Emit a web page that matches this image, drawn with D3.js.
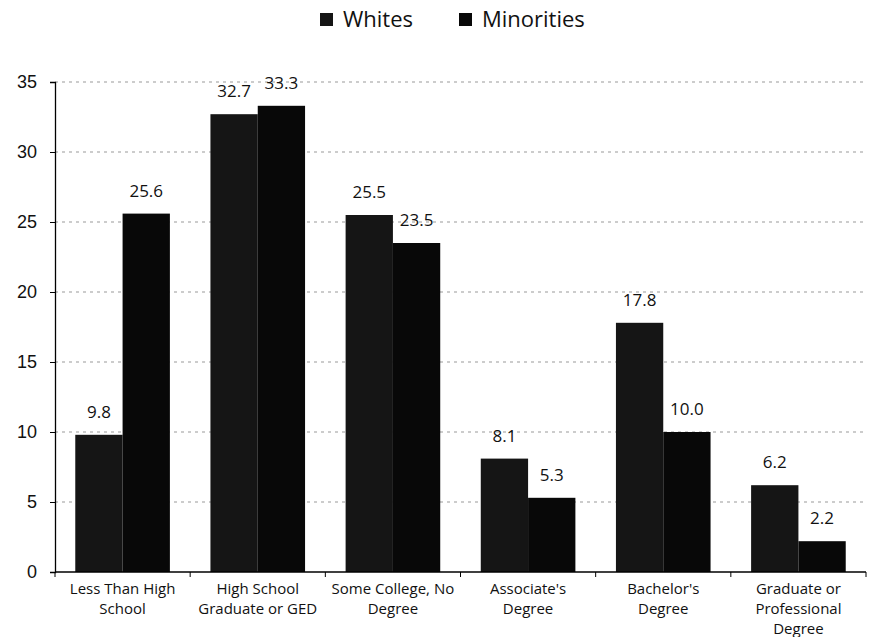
<!DOCTYPE html>
<html>
<head>
<meta charset="utf-8">
<script src="https://cdn.jsdelivr.net/npm/d3@7"></script>
<style>
  body { margin: 0; background: #fff; }
  svg { font-family: "Open Sans", "Noto Sans", sans-serif; }
</style>
</head>
<body>
<svg id="chart" width="869" height="637"></svg>
<script>
// education level by group, percent
var categories = [
  ["Less Than High", "School"],
  ["High School", "Graduate or GED"],
  ["Some College, No", "Degree"],
  ["Associate's", "Degree"],
  ["Bachelor's", "Degree"],
  ["Graduate or", "Professional", "Degree"]
];
var seriesNames = ["Whites", "Minorities"];
var whites = [9.8, 32.7, 25.5, 8.1, 17.8, 6.2];
var minorities = [25.6, 33.3, 23.5, 5.3, 10.0, 2.2];
var yTicks = [0, 5, 10, 15, 20, 25, 30, 35];

var colors = ["#151515", "#080808"];

var margin = {top: 82, right: 3, bottom: 65, left: 55},
    width = 869 - margin.left - margin.right,
    height = 637 - margin.top - margin.bottom;

var svg = d3.select("#chart")
  .append("g")
    .attr("transform", "translate(" + margin.left + "," + margin.top + ")");

var idx = d3.range(categories.length);

var x0 = d3.scaleBand()
    .domain(idx)
    .range([0, width])
    .paddingInner(0.3)
    .paddingOuter(0.15);

var x1 = d3.scaleBand()
    .domain([0, 1])
    .range([0, x0.bandwidth()]);

var y = d3.scaleLinear()
    .domain([0, 35])
    .range([height, 0]);

// grid
svg.append("g")
  .selectAll("line")
  .data(yTicks.filter(function(d) { return d > 0; }))
  .enter()
  .append("line")
    .attr("x1", 0)
    .attr("x2", width)
    .attr("y1", function(d) { return y(d); })
    .attr("y2", function(d) { return y(d); })
    .attr("stroke", "#999")
    .attr("stroke-width", 1)
    .attr("stroke-dasharray", "3,4");

// y axis
var yAxis = svg.append("g")
  .call(d3.axisLeft(y).tickValues(yTicks).tickSize(5).tickPadding(13));
yAxis.select(".domain").attr("stroke", "#000").attr("stroke-width", 1.3);
yAxis.selectAll("text")
  .style("font-size", "18px")
  .attr("fill", "#111");

// bars
var series = [whites, minorities];
var groups = svg.selectAll("g.group")
  .data(idx)
  .enter()
  .append("g")
    .attr("class", "group")
    .attr("transform", function(i) { return "translate(" + x0(i) + ",0)"; });

groups.selectAll("rect")
  .data(function(i) { return [0, 1].map(function(s) { return {s: s, v: series[s][i]}; }); })
  .enter()
  .append("rect")
    .attr("x", function(d) { return x1(d.s); })
    .attr("y", function(d) { return y(d.v); })
    .attr("width", x1.bandwidth())
    .attr("height", function(d) { return height - y(d.v); })
    .attr("fill", function(d) { return colors[d.s]; });

groups.selectAll("text.val")
  .data(function(i) { return [0, 1].map(function(s) { return {s: s, v: series[s][i]}; }); })
  .enter()
  .append("text")
    .attr("class", "val")
    .attr("x", function(d) { return x1(d.s) + x1.bandwidth() / 2; })
    .attr("y", function(d) { return y(d.v) - 17; })
    .attr("text-anchor", "middle")
    .style("font-size", "17px")
    .attr("fill", "#111")
    .text(function(d) { return d.v.toFixed(1); });

// x axis
var step = x0.step();
var xg = svg.append("g").attr("transform", "translate(0," + height + ")");
xg.append("line")
  .attr("x1", 0).attr("x2", width)
  .attr("stroke", "#000").attr("stroke-width", 1.3);
xg.selectAll("line.tick")
  .data(d3.range(categories.length + 1))
  .enter()
  .append("line")
    .attr("class", "tick")
    .attr("x1", function(i) { return i * step; })
    .attr("x2", function(i) { return i * step; })
    .attr("y1", 0).attr("y2", 5)
    .attr("stroke", "#000");

xg.selectAll("text.cat")
  .data(idx)
  .enter()
  .append("text")
    .attr("class", "cat")
    .attr("x", function(i) { return x0(i) + x0.bandwidth() / 2; })
    .attr("y", 22)
    .attr("text-anchor", "middle")
    .style("font-size", "15px")
    .attr("fill", "#111")
    .each(function(i) {
      var t = d3.select(this);
      categories[i].forEach(function(line, k) {
        t.append("tspan")
          .attr("x", x0(i) + x0.bandwidth() / 2)
          .attr("dy", k === 0 ? 0 : 20)
          .text(line);
      });
    });

// legend
var legend = d3.select("#chart").append("g");
var legendX = [320, 459];
seriesNames.forEach(function(name, s) {
  legend.append("rect")
    .attr("x", legendX[s]).attr("y", 13)
    .attr("width", 13).attr("height", 13)
    .attr("fill", colors[s]);
  legend.append("text")
    .attr("x", legendX[s] + 23).attr("y", 27)
    .style("font-size", "22px")
    .attr("fill", "#111")
    .text(name);
});
</script>
</body>
</html>
